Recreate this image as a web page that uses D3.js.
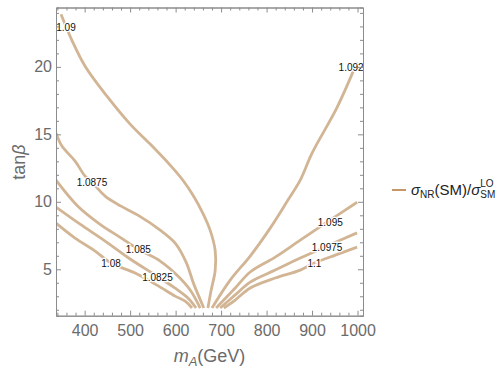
<!DOCTYPE html>
<html>
<head>
<meta charset="utf-8">
<script src="https://cdn.jsdelivr.net/npm/d3@7"></script>
<style>
  body { margin: 0; background: #fff; }
  text { font-family: "Liberation Sans", Arial, sans-serif; }
</style>
</head>
<body>
<script>
// contour levels of sigma_NR(SM)/sigma_SM^LO, each traced as [mA, tanBeta]
var levels = ["1.08", "1.0825", "1.085", "1.0875", "1.09", "1.0925", "1.095", "1.0975", "1.1"];

var c108 = [[337,8.42],[379,7.31],[423,6.35],[458,5.46],[511,4.72],[566,3.68],[599,3.01],[621,2.64],[636,2.13]];
var c10825 = [[337,9.61],[390,8.34],[445,7.09],[500,5.76],[559,4.49],[599,3.6],[627,2.87],[645,2.13]];
var c1085 = [[337,11.6],[385,9.67],[434,8.33],[478,7.37],[517,6.5],[566,5.61],[605,4.5],[632,3.46],[654,2.13]];
var c10875 = [[337,15.1],[350,14.13],[379,13.02],[401,11.9],[416,11.45],[445,10.42],[480,9.68],[517,9.01],
              [566,7.9],[599,6.94],[623,5.53],[640,3.9],[662,2.13]];
var c109 = [[348,23.9],[372,21.97],[401,20.05],[449,17.83],[500,15.76],[544,14.28],[588,12.72],[616,11.6],
            [638,10.5],[660,9.14],[676,7.88],[687,6.39],[687,4.91],[678,3.43],[671,2.13]];
var c10925 = [[680,2.13],[720,4.2],[764,5.98],[808,8.05],[847,10.13],[874,11.61],[900,13.61],[955,17.0],[999,20.35]];
var c1095 = [[689,2.13],[731,3.61],[764,4.8],[819,5.9],[874,7.16],[933,8.5],[999,9.97]];
var c10975 = [[698,2.13],[731,3.1],[764,4.05],[819,4.94],[874,5.83],[933,6.72],[999,7.7]];
var c11 = [[706,2.13],[731,2.72],[764,3.61],[819,4.35],[874,4.94],[905,5.46],[951,6.05],[999,6.64]];
var curves = [c108, c10825, c1085, c10875, c109, c10925, c1095, c10975, c11];

// where each contour label sits, [mA, tanBeta]
var labelPos = [[458,5.46],[560,4.42],[518,6.5],[416,11.46],[359,22.94],[992,19.98],[940,8.5],[933,6.65],[905,5.46]];

var xMajor = [400, 500, 600, 700, 800, 900, 1000];
var yMajor = [5, 10, 15, 20];

var W = 501, H = 370;
var m = {left: 56, right: 363, top: 7.5, bottom: 315.7};

var svg = d3.select("body").append("svg")
  .attr("width", W).attr("height", H);

var x = d3.scaleLinear().domain([337, 1012]).range([m.left, m.right]);
var y = d3.scaleLinear().domain([1.56, 24.4]).range([m.bottom, m.top]);

var xMinor = d3.range(340, 1012, 20).filter(function(v) { return v % 100 != 0; });
var yMinor = d3.range(2, 24.5, 1).filter(function(v) { return v % 5 != 0; });

svg.append("clipPath").attr("id", "plot")
  .append("rect").attr("x", m.left).attr("y", m.top)
  .attr("width", m.right - m.left).attr("height", m.bottom - m.top);

var g = svg.append("g").attr("clip-path", "url(#plot)");

var line = d3.line()
  .x(function(d) { return x(d[0]); })
  .y(function(d) { return y(d[1]); })
  .curve(d3.curveCatmullRom);

g.selectAll("path.contour").data(curves).enter().append("path")
  .attr("class", "contour")
  .attr("d", line)
  .attr("fill", "none")
  .attr("stroke", "#d2b594")
  .attr("stroke-width", 2.8)
  .attr("stroke-linejoin", "round");

g.selectAll("text.lab").data(levels).enter().append("text")
  .attr("class", "lab")
  .attr("x", function(d, i) { return x(labelPos[i][0]); })
  .attr("y", function(d, i) { return y(labelPos[i][1]); })
  .attr("dy", "0.35em")
  .attr("text-anchor", "middle")
  .attr("font-size", 10)
  .attr("fill", "#111")
  .attr("stroke", "#fff").attr("stroke-width", 2.5)
  .attr("paint-order", "stroke")
  .text(function(d) { return d; });

// frame and ticks (ticks point inward on all four sides)
var frameCol = "#8c8c8c";
function addAxis(axis, tx, ty) {
  var a = svg.append("g").attr("transform", "translate(" + tx + "," + ty + ")").call(axis);
  a.select(".domain").attr("stroke", frameCol);
  a.selectAll(".tick line").attr("stroke", frameCol);
  a.selectAll("text").attr("fill", "#6b6b6b").attr("font-size", 16)
    .attr("font-family", "'Liberation Sans', Arial, sans-serif");
  return a;
}
addAxis(d3.axisBottom(x).tickValues(xMinor).tickSize(-3).tickFormat(""), 0, m.bottom);
addAxis(d3.axisBottom(x).tickValues(xMajor).tickSize(-5).tickPadding(9).tickSizeOuter(0).tickFormat(d3.format("d")), 0, m.bottom);
addAxis(d3.axisTop(x).tickValues(xMinor).tickSize(-3).tickFormat(""), 0, m.top);
addAxis(d3.axisTop(x).tickValues(xMajor).tickSize(-5).tickFormat("").tickSizeOuter(0), 0, m.top);
addAxis(d3.axisLeft(y).tickValues(yMinor).tickSize(-3).tickFormat(""), m.left, 0);
addAxis(d3.axisLeft(y).tickValues(yMajor).tickSize(-5).tickPadding(4).tickSizeOuter(0), m.left, 0);
addAxis(d3.axisRight(y).tickValues(yMinor).tickSize(-3).tickFormat(""), m.right, 0);
addAxis(d3.axisRight(y).tickValues(yMajor).tickSize(-5).tickFormat("").tickSizeOuter(0), m.right, 0);

// axis titles
var xt = svg.append("text").attr("x", (m.left + m.right) / 2).attr("y", 362)
  .attr("text-anchor", "middle").attr("font-size", 18).attr("fill", "#6b6b6b");
xt.append("tspan").attr("font-style", "italic").text("m");
xt.append("tspan").attr("font-style", "italic").attr("font-size", 13).attr("dy", 4).text("A");
xt.append("tspan").attr("dy", -4).text("(GeV)");

var yt = svg.append("text").attr("transform", "translate(25,162) rotate(-90)")
  .attr("text-anchor", "middle").attr("font-size", 18).attr("fill", "#6b6b6b");
yt.append("tspan").text("tan");
yt.append("tspan").attr("font-style", "italic").text("β");

// legend
var lg = svg.append("g").attr("transform", "translate(392,190)");
lg.append("line").attr("x1", 0).attr("x2", 14).attr("y1", 0).attr("y2", 0)
  .attr("stroke", "#b97c42").attr("stroke-width", 1.6);
var lt = lg.append("text").attr("x", 19).attr("y", 5).attr("font-size", 15).attr("fill", "#222");
lt.append("tspan").attr("font-style", "italic").text("σ");
lt.append("tspan").attr("font-size", 10).attr("dy", 3).text("NR");
lt.append("tspan").attr("dy", -3).text("(SM)/");
lt.append("tspan").attr("font-style", "italic").text("σ");
var ltX = lt.append("tspan").attr("font-size", 10).attr("dy", 3).text("SM");
lg.append("text").attr("id", "sup").attr("font-size", 10).attr("fill", "#222").text("LO");
var bb = lt.node().getBBox();
var sw = ltX.node().getComputedTextLength();
lg.select("#sup").attr("x", 19 + bb.width - sw).attr("y", -3);
</script>
</body>
</html>
